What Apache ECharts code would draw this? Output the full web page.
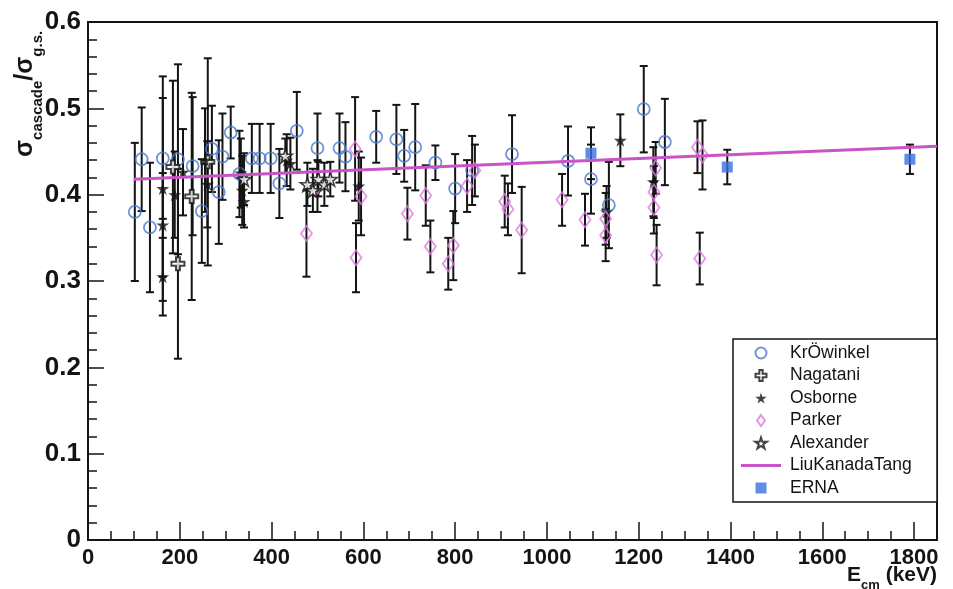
<!DOCTYPE html>
<html>
<head>
<meta charset="utf-8">
<style>
  html, body { margin: 0; padding: 0; background: #fff; }
  #chart { width: 953px; height: 589px; }
</style>
<script src="https://cdn.jsdelivr.net/npm/echarts@6/dist/echarts.min.js"></script>
</head>
<body>
<div id="chart"></div>
<script>
// [E_cm keV, ratio, error]
const krowinkel = [
  [102, 0.380, 0.080], [117, 0.441, 0.060], [135, 0.362, 0.075], [163, 0.442, 0.070], [196, 0.441, 0.110],
  [228, 0.433, 0.080], [248, 0.381, 0.060], [270, 0.453, 0.050], [285, 0.403, 0.060], [293, 0.444, 0.050],
  [311, 0.472, 0.030], [330, 0.424, 0.050], [357, 0.442, 0.040], [374, 0.442, 0.040], [398, 0.442, 0.040],
  [417, 0.413, 0.040], [455, 0.474, 0.045], [500, 0.454, 0.040], [548, 0.454, 0.040], [561, 0.444, 0.040],
  [628, 0.467, 0.030], [672, 0.464, 0.040], [689, 0.445, 0.030], [713, 0.455, 0.050], [757, 0.437, 0.020],
  [800, 0.407, 0.040], [837, 0.428, 0.040], [924, 0.447, 0.045], [1046, 0.439, 0.040], [1096, 0.418, 0.040],
  [1135, 0.388, 0.050], [1211, 0.499, 0.050], [1257, 0.461, 0.050],
];
const nagatani = [[196, 0.320, 0.110], [185, 0.432, 0.100], [226, 0.398, 0.120], [261, 0.438, 0.120]];
const osborne = [
  [163, 0.407, 0.130], [163, 0.365, 0.060], [163, 0.305, 0.045], [189, 0.400, 0.050], [207, 0.426, 0.050],
  [255, 0.440, 0.060], [260, 0.412, 0.050], [333, 0.425, 0.040], [336, 0.405, 0.040], [340, 0.392, 0.030],
  [433, 0.440, 0.030], [441, 0.436, 0.030], [590, 0.410, 0.040], [1130, 0.380, 0.030], [1160, 0.463, 0.030],
  [1232, 0.415, 0.040],
];
const parker = [
  [476, 0.355, 0.050], [500, 0.410, 0.030], [582, 0.453, 0.060], [595, 0.398, 0.045], [584, 0.327, 0.040],
  [696, 0.378, 0.030], [736, 0.399, 0.035], [746, 0.340, 0.030], [785, 0.320, 0.030], [796, 0.341, 0.040],
  [826, 0.410, 0.030], [843, 0.428, 0.030], [908, 0.392, 0.030], [915, 0.383, 0.030], [945, 0.359, 0.050],
  [1033, 0.394, 0.030], [1083, 0.371, 0.030], [1128, 0.372, 0.030], [1128, 0.353, 0.030], [1237, 0.431, 0.030],
  [1233, 0.403, 0.030], [1233, 0.385, 0.030], [1239, 0.330, 0.035], [1328, 0.455, 0.030], [1339, 0.446, 0.040],
  [1333, 0.326, 0.030],
];
const alexander = [[340, 0.418, 0.030], [430, 0.445, 0.020], [478, 0.412, 0.025], [490, 0.405, 0.025], [502, 0.418, 0.020], [515, 0.412, 0.025], [528, 0.418, 0.020]];
const erna = [[1096, 0.448, 0.030], [1393, 0.432, 0.020], [1791, 0.441, 0.017]];
const liuKanadaTang = [[100, 0.418], [1850, 0.456]];

const STAR = "path://M50,0 L61,35 L98,35 L68,57 L79,91 L50,70 L21,91 L32,57 L2,35 L39,35 Z";
const PLUS = "path://M35,0 H65 V35 H100 V65 H65 V100 H35 V65 H0 V35 H35 Z";
const DIAMOND = "path://M5.5,0 L11,7.5 L5.5,15 L0,7.5 Z";
const SQUARE = "path://M0,0 H10 V10 H0 Z";
const BAR = "path://M0,0 H40 V3 H0 Z";
const colors = { ink: "#141414", blue: "#4a7ad0", square: "#3b6fe0", pink: "#de78de", line: "#c854c8" };

const legendItems = [
  { name: "KrÖwinkel", icon: "circle" },
  { name: "Nagatani", icon: PLUS },
  { name: "Osborne", icon: STAR },
  { name: "Parker", icon: DIAMOND },
  { name: "Alexander", icon: STAR },
  { name: "LiuKanadaTang", icon: BAR },
  { name: "ERNA", icon: SQUARE },
];

const chart = echarts.init(document.getElementById("chart"), null, { renderer: "canvas" });

function errorBars(name, rows) {
  return {
    name, type: "custom", silent: true, z: 2,
    data: rows.map((r) => [r[0], r[1] - r[2], r[1] + r[2]]),
    encode: { x: 0, y: [1, 2] },
    renderItem(params, api) {
      const lo = api.coord([api.value(0), api.value(1)]);
      const hi = api.coord([api.value(0), api.value(2)]);
      const style = { stroke: colors.ink, lineWidth: 2 };
      return {
        type: "group",
        children: [
          { type: "line", shape: { x1: lo[0], y1: lo[1], x2: hi[0], y2: hi[1] }, style },
          { type: "line", shape: { x1: lo[0] - 4, y1: lo[1], x2: lo[0] + 4, y2: lo[1] }, style },
          { type: "line", shape: { x1: hi[0] - 4, y1: hi[1], x2: hi[0] + 4, y2: hi[1] }, style },
        ],
      };
    },
  };
}

function points(name, rows, symbol, size, itemStyle) {
  return { name, type: "scatter", z: 3, symbol, symbolSize: size, itemStyle, data: rows.map((r) => [r[0], r[1]]) };
}

const font = "'Liberation Sans', Arial, sans-serif";

chart.setOption({
  animation: false,
  backgroundColor: "#fff",
  grid: { left: 88, right: 16, top: 22, bottom: 49, show: true, borderColor: colors.ink, borderWidth: 2, backgroundColor: "transparent" },
  xAxis: {
    type: "value", min: 0, max: 1850, interval: 200,
    axisLine: { show: true, onZero: false, lineStyle: { color: colors.ink, width: 2 } },
    axisTick: { inside: true, length: 18, lineStyle: { color: colors.ink, width: 1.5 } },
    minorTick: { show: true, splitNumber: 4, length: 9, lineStyle: { color: colors.ink, width: 1.5 } },
    splitLine: { show: false },
    axisLabel: { color: colors.ink, fontFamily: font, fontWeight: "bold", fontSize: 22, margin: 7, showMaxLabel: false, formatter: (v) => String(v) },
  },
  yAxis: {
    type: "value", min: 0, max: 0.6, interval: 0.1,
    axisLine: { show: true, onZero: false, lineStyle: { color: colors.ink, width: 2 } },
    axisTick: { inside: true, length: 16, lineStyle: { color: colors.ink, width: 1.5 } },
    minorTick: { show: true, splitNumber: 5, length: 9, lineStyle: { color: colors.ink, width: 1.5 } },
    splitLine: { show: false },
    axisLabel: { color: colors.ink, fontFamily: font, fontWeight: "bold", fontSize: 26, margin: 7 },
  },
  legend: {
    orient: "vertical", left: 736, top: 339, itemWidth: 40, itemHeight: 11, itemGap: 4.5,
    symbolKeepAspect: true,
    data: legendItems,
    textStyle: { color: colors.ink, fontFamily: font, fontSize: 17.5, padding: [0, 0, 0, 4] },
    selectedMode: false,
  },
  graphic: [
    { type: "rect", z: 1, shape: { x: 733, y: 339, width: 204, height: 163 }, style: { fill: "#fff", stroke: colors.ink, lineWidth: 1.5 } },
    {
      type: "text", x: 29, y: 157, rotation: Math.PI / 2,
      style: {
        text: "{a|σ}{s|cascade}{a|/σ}{s|g.s.}", textAlign: "left", textVerticalAlign: "middle", fill: colors.ink,
        rich: {
          a: { fontFamily: font, fontWeight: "bold", fontSize: 25, padding: [0, 0, 7, 0], verticalAlign: "bottom" },
          s: { fontFamily: font, fontWeight: "bold", fontSize: 15, verticalAlign: "bottom" },
        },
      },
    },
    {
      type: "text", x: 937, y: 578,
      style: {
        text: "{a|E}{s|cm}{a| (keV)}", textAlign: "right", textVerticalAlign: "middle", fill: colors.ink,
        rich: {
          a: { fontFamily: font, fontWeight: "bold", fontSize: 21, padding: [0, 0, 6, 0], verticalAlign: "bottom" },
          s: { fontFamily: font, fontWeight: "bold", fontSize: 13, verticalAlign: "bottom" },
        },
      },
    },
  ],
  series: [
    errorBars("err-krowinkel", krowinkel),
    errorBars("err-nagatani", nagatani),
    errorBars("err-osborne", osborne),
    errorBars("err-parker", parker),
    errorBars("err-alexander", alexander),
    errorBars("err-erna", erna),
    {
      name: "LiuKanadaTang", type: "line", z: 4, symbol: "none", data: liuKanadaTang,
      lineStyle: { color: colors.line, width: 3 }, itemStyle: { color: colors.line },
    },
    points("KrÖwinkel", krowinkel, "circle", 12, { color: "rgba(255,255,255,0)", borderColor: colors.blue, borderWidth: 1.8 }),
    points("Nagatani", nagatani, PLUS, 13, { color: "#fff", borderColor: colors.ink, borderWidth: 2 }),
    points("Osborne", osborne, STAR, 13, { color: colors.ink }),
    points("Parker", parker, DIAMOND, [11, 15], { color: "rgba(255,255,255,0)", borderColor: colors.pink, borderWidth: 1.8 }),
    points("Alexander", alexander, STAR, 14, { color: "#fff", borderColor: colors.ink, borderWidth: 1.6 }),
    points("ERNA", erna, SQUARE, 11, { color: colors.square }),
  ],
});
</script>
</body>
</html>
